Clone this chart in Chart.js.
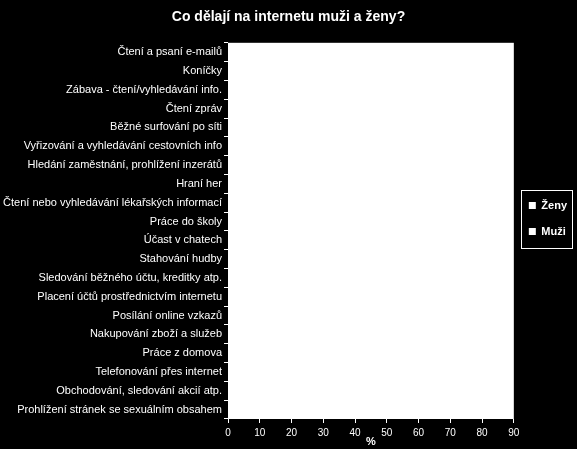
<!DOCTYPE html>
<html>
<head>
<meta charset="utf-8">
<script src="https://cdn.jsdelivr.net/npm/chart.js@4/dist/chart.umd.min.js"></script>
<style>
  html, body { margin: 0; padding: 0; background: #000; }
  #wrap { width: 577px; height: 449px; }
</style>
</head>
<body>
<div id="wrap"><canvas id="graf"></canvas></div>
<script>
const kategorie = [
  'Čtení a psaní e-mailů',
  'Koníčky',
  'Zábava - čtení/vyhledávání info.',
  'Čtení zpráv',
  'Běžné surfování po síti',
  'Vyřizování a vyhledávání cestovních info',
  'Hledání zaměstnání, prohlížení inzerátů',
  'Hraní her',
  'Čtení nebo vyhledávání lékařských informací',
  'Práce do školy',
  'Účast v chatech',
  'Stahování hudby',
  'Sledování běžného účtu, kreditky atp.',
  'Placení účtů prostřednictvím internetu',
  'Posílání online vzkazů',
  'Nakupování zboží a služeb',
  'Práce z domova',
  'Telefonování přes internet',
  'Obchodování, sledování akcií atp.',
  'Prohlížení stránek se sexuálním obsahem'
];

// v obrázku nejsou sloupce vidět (bílé na bílém), hodnoty nelze odečíst
const zeny = kategorie.map(() => null);
const muzi = kategorie.map(() => null);

const osaX = [0, 90, 10];

// bílá plocha grafu
const bilaPlocha = {
  id: 'bilaPlocha',
  beforeDraw(chart) {
    const a = chart.chartArea;
    const ctx = chart.ctx;
    ctx.save();
    ctx.fillStyle = '#000';
    ctx.fillRect(0, 0, chart.width, chart.height);
    ctx.fillStyle = '#fff';
    ctx.fillRect(a.left, a.top, a.right - a.left, a.bottom - a.top);
    ctx.restore();
  }
};

// legendu posunout o kus výš, jako v předloze
const posunLegendy = {
  id: 'posunLegendy',
  afterLayout(chart) {
    chart.legend.top -= 6;
    chart.legend.bottom -= 6;
  }
};

// rámeček kolem legendy
const ramecekLegendy = {
  id: 'ramecekLegendy',
  afterDraw(chart) {
    const l = chart.legend;
    const stred = Math.round((l.top + l.bottom) / 2);
    const ctx = chart.ctx;
    ctx.save();
    ctx.strokeStyle = '#fff';
    ctx.lineWidth = 1;
    ctx.strokeRect(521.5, stred - 29 + 0.5, 51, 58);
    ctx.restore();
  }
};

new Chart(document.getElementById('graf'), {
  type: 'bar',
  data: {
    labels: kategorie,
    datasets: [
      { label: 'Ženy', data: zeny, backgroundColor: '#fff', borderWidth: 0 },
      { label: 'Muži', data: muzi, backgroundColor: '#fff', borderWidth: 0 }
    ]
  },
  options: {
    indexAxis: 'y',
    responsive: true,
    maintainAspectRatio: false,
    animation: false,
    layout: { padding: { top: 0, right: 0, bottom: 0, left: 0 } },
    scales: {
      y: {
        grid: { offset: true, drawOnChartArea: false, color: '#fff', tickLength: 4, drawTicks: true },
        border: { display: false },
        ticks: {
          color: '#fff',
          padding: 2,
          autoSkip: false,
          font: { family: 'Liberation Sans', size: 11 }
        },
        afterFit(s) { s.width = 228; }
      },
      x: {
        min: osaX[0],
        max: osaX[1],
        grid: { drawOnChartArea: false, color: '#fff', tickLength: 4 },
        border: { display: false },
        ticks: {
          stepSize: osaX[2],
          color: '#fff',
          padding: 4,
          font: { family: 'Liberation Sans', size: 10 }
        },
        title: {
          display: true,
          text: '%',
          color: '#fff',
          padding: { top: -4, bottom: 0 },
          font: { family: 'Liberation Sans', size: 11, weight: 'bold' }
        },
        afterFit(s) { s.height = 30; }
      }
    },
    plugins: {
      title: {
        display: true,
        text: 'Co dělají na internetu muži a ženy?',
        color: '#fff',
        padding: { top: 9, bottom: 17 },
        font: { family: 'Liberation Sans', size: 14, weight: 'bold' }
      },
      legend: {
        position: 'right',
        labels: {
          color: '#fff',
          boxWidth: 7,
          boxHeight: 7,
          padding: 15,
          font: { family: 'Liberation Sans', size: 11, weight: 'bold' }
        }
      },
      tooltip: { enabled: false }
    }
  },
  plugins: [bilaPlocha, posunLegendy, ramecekLegendy]
});
</script>
</body>
</html>
